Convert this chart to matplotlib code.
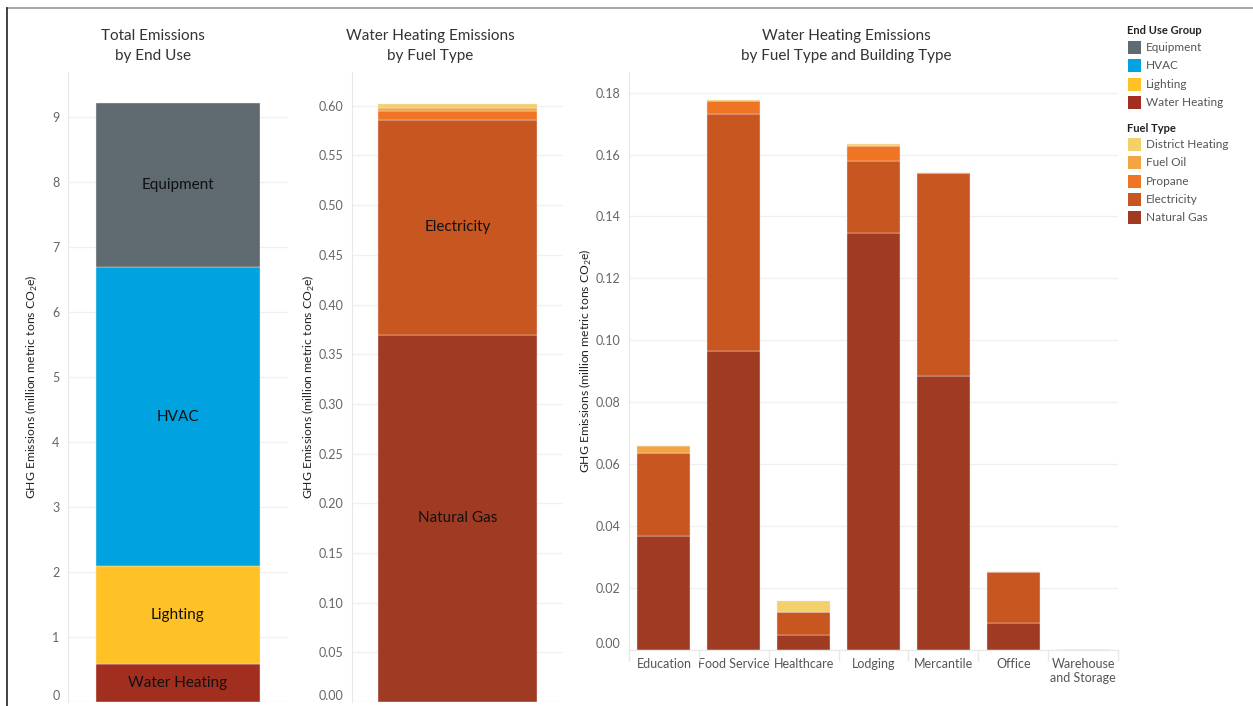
import matplotlib
matplotlib.use("Agg")
import matplotlib.pyplot as plt
from matplotlib.patches import Rectangle
from matplotlib.lines import Line2D
import numpy as np

plt.rcParams['font.family'] = ['Lato', 'DejaVu Sans']

# Total emissions by end use (million metric tons CO2e)
end_uses = ["Water Heating", "Lighting", "HVAC", "Equipment"]
end_use_values = [0.59, 1.51, 4.59, 2.54]
end_use_colors = ["#a12e1e", "#fec226", "#00a3e0", "#5f6b70"]

# Water heating emissions by building type and fuel type
buildings = ["Education", "Food Service", "Healthcare", "Lodging",
             "Mercantile", "Office", "Warehouse\nand Storage"]
fuels = ["Natural Gas", "Electricity", "Propane", "Fuel Oil", "District Heating"]
natural_gas = [0.0367, 0.0965, 0.0047, 0.1347, 0.0884, 0.0086, 0.0]
electricity = [0.0267, 0.0766, 0.0075, 0.0233, 0.0656, 0.0166, 0.0]
propane = [0.0, 0.0042, 0.0, 0.0049, 0.0, 0.0, 0.0]
fuel_oil = [0.0024, 0.0, 0.0, 0.0, 0.0, 0.0, 0.0]
district_heating = [0.0, 0.0003, 0.0035, 0.0004, 0.0, 0.0, 0.0]
fuel_colors = ["#9e3b22", "#c85621", "#ef7423", "#f5a443", "#f2d06a"]

fuel_data = [natural_gas, electricity, propane, fuel_oil, district_heating]
fuel_totals = [sum(v) for v in fuel_data]

W, H = 1253, 706
fig = plt.figure(figsize=(W / 100, H / 100), dpi=100)


def px(x0, y0, x1, y1):
    return [x0 / W, 1 - y1 / H, (x1 - x0) / W, (y1 - y0) / H]


tick_col = "#666666"
grid_col = "#f0f0f0"
edge = dict(edgecolor="#f4e6e0", linewidth=0.3)


def style(ax):
    for s in ["top", "right"]:
        ax.spines[s].set_visible(False)
    ax.spines["left"].set_color("#e8e8e8")
    ax.spines["bottom"].set_visible(False)
    ax.yaxis.grid(True, color=grid_col, lw=1)
    ax.set_axisbelow(True)
    ax.tick_params(axis="y", length=0, labelsize=9, labelcolor=tick_col, pad=6)
    ax.tick_params(axis="x", length=0)


ylab = r"GHG Emissions (million metric tons CO$_\mathregular{2}$e)"
ylab_kw = dict(fontsize=8.7, color="#222222")

# panel 1
ax1 = fig.add_axes(px(68, 72, 288, 702))
bottom = 0
for name, val, col in zip(end_uses, end_use_values, end_use_colors):
    ax1.bar(0, val, bottom=bottom, width=0.745, color=col, **edge)
    ax1.text(0, bottom + val / 2, name, ha="center", va="center", fontsize=11, color="#111111")
    bottom += val
ax1.set_xlim(-0.5, 0.5)
ax1.set_ylim(0, 9.7)
ax1.set_yticks(range(0, 10))
ax1.set_xticks([])
style(ax1)
ax1.set_ylabel(ylab, **ylab_kw)
ax1.yaxis.set_label_coords(-28 / 220, 0.5)

# panel 2
ax2 = fig.add_axes(px(352, 72, 563, 702))
bottom = 0
for name, val, col in zip(fuels, fuel_totals, fuel_colors):
    ax2.bar(0, val, bottom=bottom, width=0.754, color=col, **edge)
    if val > 0.1:
        ax2.text(0, bottom + val / 2, name, ha="center", va="center", fontsize=11, color="#111111")
    bottom += val
ax2.set_xlim(-0.5, 0.5)
ax2.set_ylim(0, 0.634)
ax2.set_yticks(np.arange(0, 0.61, 0.05))
ax2.set_yticklabels([f"{v:.2f}" for v in np.arange(0, 0.61, 0.05)])
ax2.set_xticks([])
style(ax2)
ax2.set_ylabel(ylab, **ylab_kw)
ax2.yaxis.set_label_coords(-35 / 211, 0.5)

# panel 3
ax3 = fig.add_axes(px(629, 72, 1118, 649.5))
x = np.arange(len(buildings))
bottom = np.zeros(len(buildings))
for name, vals, col in zip(fuels, fuel_data, fuel_colors):
    vals = np.array(vals)
    ax3.bar(x, vals, bottom=bottom, width=0.76, color=col, **edge)
    bottom += vals
ax3.set_xlim(-0.5, len(buildings) - 0.5)
ax3.set_ylim(0, 0.1867)
ax3.set_yticks(np.arange(0, 0.181, 0.02))
ax3.set_yticklabels([f"{v:.2f}" for v in np.arange(0, 0.181, 0.02)])
ax3.set_xticks(x)
ax3.set_xticklabels(buildings, fontsize=9, color="#555555")
ax3.set_xticks(np.arange(-0.5, len(buildings), 1), minor=True)
style(ax3)
ax3.spines["bottom"].set_visible(True)
ax3.spines["bottom"].set_color("#e8e8e8")
ax3.tick_params(axis="x", which="major", length=0, pad=6)
ax3.tick_params(axis="x", which="minor", length=8, color="#e8e8e8", width=1)
ax3.set_ylabel(ylab, **ylab_kw)
ax3.yaxis.set_label_coords(-35 / 489, 0.5)

# zero tick labels sit just above the bottom edge
for ax in (ax1, ax2, ax3):
    ax.get_yticklabels()[0].set_va("bottom")

# titles
title_kw = dict(ha="center", va="center", fontsize=11, color="#333333", linespacing=1.6)
fig.text(153 / W, 1 - 46 / H, "Total Emissions\nby End Use", **title_kw)
fig.text(430 / W, 1 - 46 / H, "Water Heating Emissions\nby Fuel Type", **title_kw)
fig.text(846 / W, 1 - 46 / H, "Water Heating Emissions\nby Fuel Type and Building Type", **title_kw)

# legends
def legend_block(title, y0, names, colors):
    fig.text(1127 / W, 1 - y0 / H, title, fontsize=8, fontweight="bold", color="#222222",
             ha="left", va="center")
    for i, (n, c) in enumerate(zip(names, colors)):
        yc = y0 + 16.5 + i * 18.3
        fig.add_artist(Rectangle((1128 / W, 1 - (yc + 6.5) / H), 13 / W, 13 / H,
                                 transform=fig.transFigure, facecolor=c, edgecolor="none"))
        fig.text(1146 / W, 1 - yc / H, n, fontsize=8.5, color="#555555", ha="left", va="center")


legend_block("End Use Group", 31, end_uses[::-1], end_use_colors[::-1])
legend_block("Fuel Type", 128, fuels[::-1], fuel_colors[::-1])

# dashboard frame
fig.add_artist(Line2D([7 / W, 1], [1 - 8 / H, 1 - 8 / H], transform=fig.transFigure,
                      color="#999999", lw=1.2))
fig.add_artist(Line2D([7 / W, 7 / W], [0, 1 - 8 / H], transform=fig.transFigure,
                      color="#222222", lw=1.2))

fig.savefig("out.png", dpi=100)
